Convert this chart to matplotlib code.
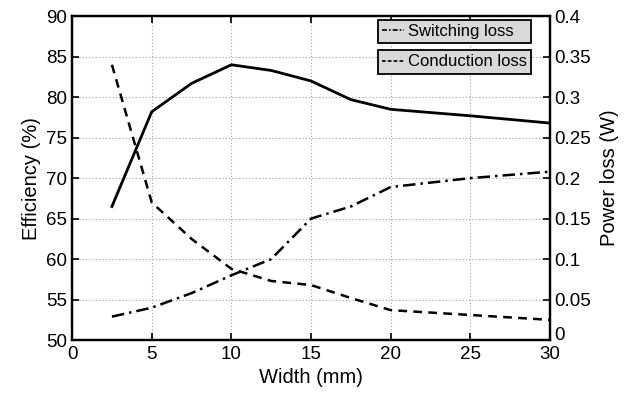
import matplotlib
matplotlib.use("Agg")
import matplotlib.pyplot as plt
import matplotlib.transforms as mtransforms
from matplotlib.lines import Line2D

plt.rcParams['font.family'] = ['Liberation Sans', 'DejaVu Sans']

# Data
width = [2.5, 5, 7.5, 10, 12.5, 15, 17.5, 20, 25, 30]
efficiency = [66.5, 78.2, 81.7, 84.0, 83.3, 82.0, 79.7, 78.5, 77.7, 76.8]
switching_loss = [0.029, 0.040, 0.058, 0.080, 0.100, 0.150, 0.165, 0.189, 0.200, 0.208]
conduction_loss = [0.340, 0.170, 0.125, 0.088, 0.073, 0.068, 0.052, 0.037, 0.031, 0.025]

x_ticks = [0, 5, 10, 15, 20, 25, 30]
eff_ticks = [50, 55, 60, 65, 70, 75, 80, 85, 90]
loss_ticks = [0, 0.05, 0.1, 0.15, 0.2, 0.25, 0.3, 0.35, 0.4]
loss_labels = ["0", "0.05", "0.1", "0.15", "0.2", "0.25", "0.3", "0.35", "0.4"]

fig = plt.figure(figsize=(6.27, 3.95), dpi=100)
ax = fig.add_axes([0.115, 0.139, 0.762, 0.82])
ax2 = ax.twinx()

ax.plot(width, efficiency, color='black', lw=2.0, ls='-')
ax2.plot(width, switching_loss, color='black', lw=1.8, ls=(0, (5, 2, 1, 2)))
ax2.plot(width, conduction_loss, color='black', lw=1.8, ls=(0, (3.5, 2.5)))

ax.set_xlim(0, 30)
ax.set_ylim(50, 90)
ax2.set_ylim(0, 0.4)
ax.set_xticks(x_ticks)
ax.set_yticks(eff_ticks)
ax2.set_yticks(loss_ticks)
ax2.set_yticklabels(loss_labels)

ax.grid(True, color='#a0a0a0', ls=(0, (1, 2)), lw=0.8)
for a in (ax, ax2):
    a.tick_params(direction='in', labelsize=13.5, length=5, width=1.2)
    for s in a.spines.values():
        s.set_linewidth(1.6)
ax.tick_params(top=True)
ax.tick_params(axis='x', pad=4)

# lift the right-hand "0" a little so it clears the "30"
zero_lbl = ax2.yaxis.get_major_ticks()[0].label2
zero_lbl.set_transform(zero_lbl.get_transform() +
                       mtransforms.ScaledTranslation(0, 5 / 72, fig.dpi_scale_trans))

ax.set_xlabel("Width (mm)", fontsize=14.5, labelpad=4)
ax.set_ylabel("Efficiency (%)", fontsize=14.5, labelpad=4)
ax2.set_ylabel("Power loss (W)", fontsize=14.5, labelpad=6)

# two separate legend boxes, matlab style, same width
leg_kw = dict(loc='upper left', mode='expand', fontsize=12, fancybox=False,
              edgecolor='black', facecolor='#d9d9d9', framealpha=1,
              handlelength=1.3, handletextpad=0.25, borderpad=0.25, borderaxespad=0)
h1 = [Line2D([], [], color='black', lw=1.2, ls=(0, (3, 1.2, 1, 1.2)))]
h2 = [Line2D([], [], color='black', lw=1.2, ls=(0, (2.2, 1.3)))]
leg1 = ax2.legend(h1, ["Switching loss"], bbox_to_anchor=(0.64, 0.988, 0.32, 0.0), **leg_kw)
leg1.get_frame().set_linewidth(1.3)
ax2.add_artist(leg1)
leg2 = ax2.legend(h2, ["Conduction loss"], bbox_to_anchor=(0.64, 0.895, 0.32, 0.0), **leg_kw)
leg2.get_frame().set_linewidth(1.3)

fig.savefig("out.png", dpi=100)
